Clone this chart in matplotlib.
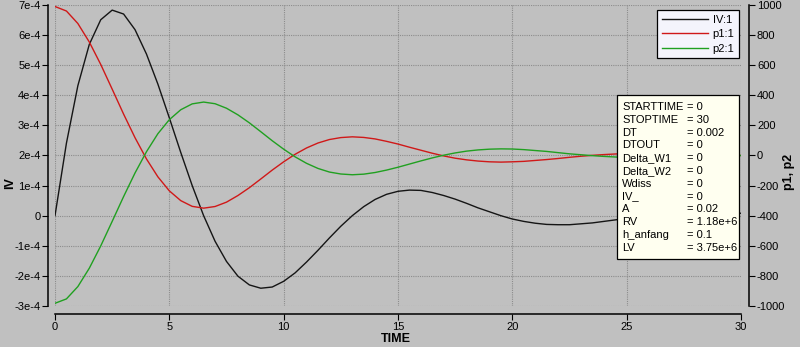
import matplotlib
matplotlib.use('Agg')
import matplotlib.pyplot as plt
from matplotlib.patches import Rectangle

plt.rcParams['font.family'] = ['Liberation Sans', 'DejaVu Sans']
plt.rcParams['axes.unicode_minus'] = False

# time axis, every 0.5
time = [i * 0.5 for i in range(61)]

# IV in units of 1e-4
iv = [0, 2.41, 4.32, 5.69, 6.51, 6.83, 6.70, 6.18, 5.37, 4.37,
      3.25, 2.10, 1.00, 0, -0.85, -1.52, -2.01, -2.30, -2.41, -2.37,
      -2.18, -1.90, -1.54, -1.15, -0.74, -0.35, 0, 0.30, 0.54, 0.71,
      0.81, 0.85, 0.84, 0.77, 0.67, 0.55, 0.41, 0.26, 0.13, 0,
      -0.11, -0.19, -0.25, -0.29, -0.30, -0.30, -0.27, -0.24, -0.19, -0.14,
      -0.09, -0.04, 0, 0.04, 0.07, 0.09, 0.10, 0.11, 0.10, 0.10, 0.08]

p1 = [990, 960, 877, 754, 605, 441, 275, 118, -23, -142,
      -235, -300, -338, -350, -339, -310, -266, -214, -156, -97,
      -42, 8, 50, 83, 106, 119, 124, 120, 110, 94,
      76, 55, 35, 15, -3, -18, -29, -37, -42, -44,
      -42, -39, -33, -27, -20, -12, -5, 1, 6, 10,
      13, 15, 15, 15, 14, 12, 9, 7, 4, 2, 0]

p2 = [-982, -953, -871, -749, -601, -438, -273, -116, 25, 145,
      238, 304, 343, 355, 344, 314, 270, 217, 158, 98,
      42, -9, -52, -86, -110, -123, -128, -124, -113, -97,
      -78, -57, -36, -16, 2, 17, 29, 37, 42, 44,
      43, 39, 33, 27, 19, 11, 5, -1, -6, -10,
      -13, -15, -15, -15, -14, -12, -9, -7, -4, -2, 0]

iv_ticks = [-3, -2, -1, 0, 1, 2, 3, 4, 5, 6, 7]
iv_labels = ['-3e-4', '-2e-4', '-1e-4', '0', '1e-4', '2e-4', '3e-4',
             '4e-4', '5e-4', '6e-4', '7e-4']
p_ticks = [-1000, -800, -600, -400, -200, 0, 200, 400, 600, 800, 1000]
time_ticks = [0, 5, 10, 15, 20, 25, 30]

param_names = ['STARTTIME', 'STOPTIME', 'DT', 'DTOUT', 'Delta_W1', 'Delta_W2',
               'Wdiss', 'IV_', 'A', 'RV', 'h_anfang', 'LV']
param_values = ['0', '30', '0.002', '0', '0', '0', '0', '0', '0.02',
                '1.18e+6', '0.1', '3.75e+6']

bg = '#c0c0c0'
fig = plt.figure(figsize=(8, 3.47), dpi=100, facecolor=bg)
ax = fig.add_axes([0.06875, 0.1182, 0.8575, 0.8674])
ax.set_facecolor(bg)
ax2 = ax.twinx()
ax2.patch.set_visible(False)

l_iv, = ax.plot(time, [v * 1e-4 for v in iv], color='#151515', lw=1.0, label='IV:1')
l_p1, = ax2.plot(time, p1, color='#d01818', lw=1.0, label='p1:1')
l_p2, = ax2.plot(time, p2, color='#20a020', lw=1.0, label='p2:1')

ax.set_xlim(0, 30)
ax.set_ylim(-3e-4, 7e-4)
ax2.set_ylim(-1000, 1000)
ax.set_xticks(time_ticks)
ax.set_yticks([t * 1e-4 for t in iv_ticks])
ax.set_yticklabels(iv_labels)
ax2.set_yticks(p_ticks)

ax.grid(True, color='#8c8c8c', linestyle=(0, (1, 1)), lw=0.8)

for a in (ax, ax2):
    a.spines['top'].set_visible(False)
ax.spines['right'].set_visible(False)
ax2.spines['left'].set_visible(False)
ax2.spines['bottom'].set_visible(False)
ax.spines['left'].set_position(('outward', 5))
ax.spines['bottom'].set_position(('outward', 6))
ax2.spines['right'].set_position(('outward', 6))
for s in (ax.spines['left'], ax.spines['bottom'], ax2.spines['right']):
    s.set_linewidth(1.1)

ax.tick_params(axis='both', direction='out', length=4, width=0.8, pad=1.5,
               labelsize=8, colors='black')
ax2.tick_params(axis='y', direction='out', length=4, width=0.8, pad=1.5,
                labelsize=8)

ax.set_xlabel('TIME', fontsize=9, fontweight='bold')
ax.xaxis.set_label_coords(0.497, -0.09)
ax.set_ylabel('IV', fontsize=9, fontweight='bold')
ax.yaxis.set_label_coords(-0.057, 0.41)
ax2.set_ylabel('p1, p2', fontsize=9, fontweight='bold')
ax2.yaxis.set_label_coords(1.061, 0.445)

leg = ax2.legend(handles=[l_iv, l_p1, l_p2], loc='upper right',
                 bbox_to_anchor=(0.997, 0.983), borderaxespad=0,
                 fontsize=8, fancybox=False, framealpha=1,
                 facecolor='#f4f4fc', edgecolor='black',
                 handlelength=4.2, handletextpad=0.4, labelspacing=0.42,
                 borderpad=0.4)
leg.get_frame().set_linewidth(0.9)

# parameter box
box = Rectangle((0.77125, 0.2536), 0.1525, 0.4726, transform=fig.transFigure,
                facecolor='#fffff0', edgecolor='black', lw=0.9, zorder=5)
fig.add_artist(box)
fig.text(0.7775, 0.706, '\n'.join(param_names), fontsize=8, va='top',
         ha='left', linespacing=1.35, zorder=6)
fig.text(0.859, 0.706, '\n'.join('= ' + v for v in param_values), fontsize=8,
         va='top', ha='left', linespacing=1.35, zorder=6)

fig.savefig('out.png', dpi=100, facecolor=bg)
